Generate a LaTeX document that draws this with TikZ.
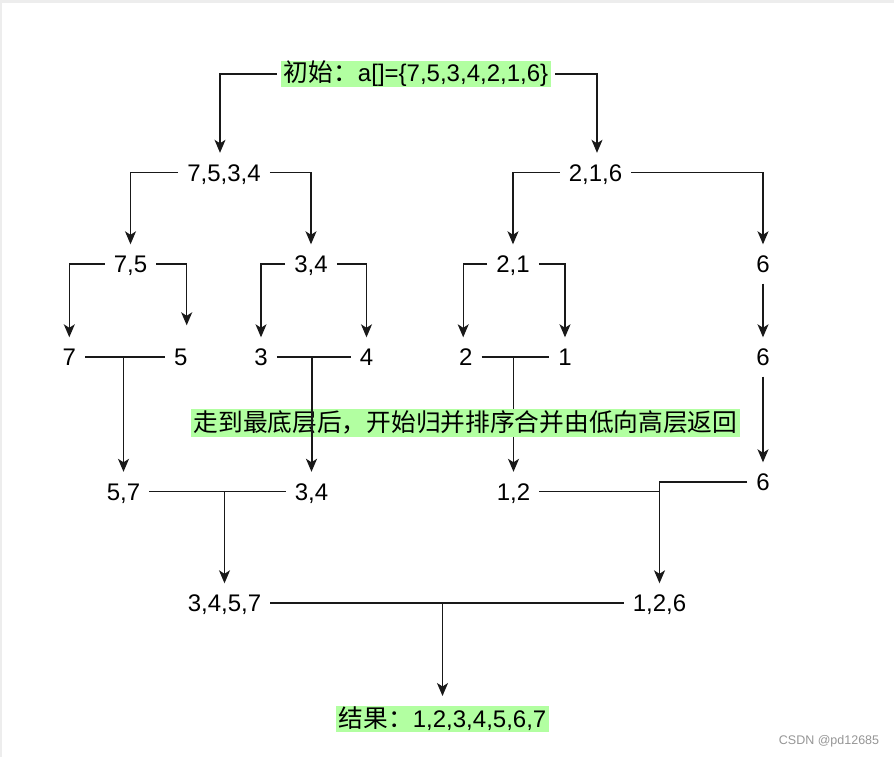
\documentclass[tikz,border=0pt]{standalone}
\usepackage{fontspec}
\setmainfont{Liberation Sans}
\newfontfamily\cjk[Scale=1.03]{Noto Sans CJK SC}
\usepackage{xcolor}
\usepackage{tikz}
\usetikzlibrary{arrows.meta}
\definecolor{notegreen}{RGB}{178,255,161}
\definecolor{linegray}{RGB}{25,25,25}
\definecolor{markgray}{RGB}{150,150,150}

\begin{document}
\begin{tikzpicture}[x=1pt,y=-1pt,
    num/.style={font=\fontsize{24}{28}\selectfont, text height=17pt, text depth=0pt, inner xsep=9pt, inner ysep=11pt},
    note/.style={fill=notegreen, font=\fontsize{24}{28}\selectfont, text height=20pt, text depth=4pt, inner xsep=3pt, inner ysep=1pt, outer sep=4pt},
    link/.style={draw=linegray, line width=1.3pt},
    arr/.style={link, -{Stealth[length=13pt,width=11pt,inset=3.5pt]}}]
    % basics
    \useasboundingbox (0,0) rectangle (894,757);
    \fill[white] (0,0) rectangle (894,757);
    \fill[black!7] (0,0) rectangle (894,3);
    \fill[black!7] (0,0) rectangle (1.5,757);

    \node[note] (root) at (416,74) {{\cjk 初始：}a[]=\{7,5,3,4,2,1,6\}};
    \node[num] (n7534) at (224,172.5) {7,5,3,4};
    \node[num] (n216) at (595.5,172.5) {2,1,6};
    \node[num] (n75) at (130.5,264) {7,5};
    \node[num] (n34a) at (311,264) {3,4};
    \node[num] (n21) at (513,264) {2,1};
    \node[num] (n6a) at (763,264) {6};
    \node[num] (n7) at (69.3,357) {7};
    \node[num] (n5) at (180.7,357) {5};
    \node[num] (n3) at (261,357) {3};
    \node[num] (n4) at (366.5,357) {4};
    \node[num] (n2) at (465.7,357) {2};
    \node[num] (n1) at (565,357) {1};
    \node[num] (n6b) at (763,357) {6};
    \node[num] (n57) at (123.5,491.5) {5,7};
    \node[num] (n34b) at (311.5,491.5) {3,4};
    \node[num] (n12) at (513.5,491.5) {1,2};
    \node[num] (n6c) at (763,482) {6};
    \node[num] (n3457) at (224.5,603) {3,4,5,7};
    \node[num] (n126) at (659.5,603) {1,2,6};
    \node[note] (result) at (442.5,719) {{\cjk 结果：}1,2,3,4,5,6,7};

    % split
    \draw[arr] (root.west) -| ([xshift=-4pt]n7534.north);
    \draw[arr] (root.east) -| ([xshift=1.5pt]n216.north);
    \draw[arr] (n7534.west) -| (n75.north);
    \draw[arr] (n7534.east) -| (n34a.north);
    \draw[arr] (n216.west) -| (n21.north);
    \draw[arr] (n216.east) -| (n6a.north);
    \draw[arr] (n75.west) -| (n7.north);
    \draw[arr, shorten >=12pt] (n75.east) -| ([xshift=6pt]n5.north);
    \draw[arr] (n34a.west) -| (n3.north);
    \draw[arr] (n34a.east) -| (n4.north);
    \draw[arr] (n21.west) -| ([xshift=-2.5pt]n2.north);
    \draw[arr] (n21.east) -| (n1.north);
    \draw[arr] (n6a.south) -- (n6b.north);

    % merge
    \draw[link] (n7.east) -- (n5.west);
    \draw[arr] (n7.east -| n57.north) -- (n57.north);
    \draw[link] (n3.east) -- (n4.west);
    \draw[link] (n2.east) -- (n1.west);
    \draw[arr] (n2.east -| n12.north) -- (n12.north);
    \draw[arr] (n6b.south) -- (n6c.north);

    \node[note, inner ysep=2pt] (turn) at (465.5,423.3) {\cjk 走到最底层后，开始归并排序合并由低向高层返回};
    \draw[arr, line width=2pt] (n3.east -| n34b.north) -- (n34b.north);

    \draw[link] (n57.east) -- (n34b.west);
    \draw[arr] (n57.east -| n3457.north) -- (n3457.north);
    \draw[link] (n12.east) -- (n12.east -| n126.north);
    \draw[arr] (n6c.west) -| (n126.north);
    \draw[link] (n3457.east) -- (n126.west);
    \draw[arr] (n3457.east -| result.north) -- ([yshift=6pt]result.north);

    \node[text=markgray, font=\fontsize{12.5}{14}\selectfont, inner sep=0pt] (mark) at (829,741) {CSDN @pd12685};
\end{tikzpicture}
\end{document}
